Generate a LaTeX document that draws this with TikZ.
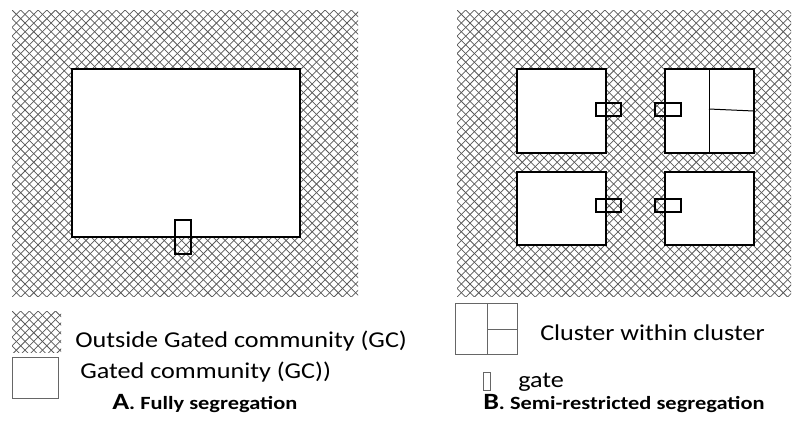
\documentclass[tikz,border=0pt]{standalone}
\usepackage{graphicx}
\usepackage{fontspec}
\setmainfont{Carlito}
\newcommand{\wide}[2]{\scalebox{#1}[1]{#2}}
\begin{document}
\begin{tikzpicture}[x=0.75pt,y=-0.75pt,
  hatchline/.style={line width=0.55pt, draw=black!65},
  gcbox/.style={line width=2.2pt, draw=black, fill=white},
  gatebox/.style={line width=1.9pt, draw=black},
  thinline/.style={line width=0.75pt, draw=black},
  legbox/.style={line width=0.6pt, draw=black!60},
  lbl/.style={anchor=base west, inner sep=0pt, font=\fontsize{17}{20}\selectfont},
  captiontext/.style={anchor=base west, inner sep=0pt, font=\bfseries\fontsize{14}{16}\selectfont}
]
\useasboundingbox (0,0) rectangle (794,430);
\newcommand{\hatchregion}[4]{%
  \begin{scope}
    \clip (#1,#2) rectangle (#3,#4);
    \foreach \i in {-45,...,85} {
      \draw[hatchline] ({#1+\i*8.7},#2) -- ++(320,320);
      \draw[hatchline] ({#1+\i*8.7},#2) -- ++(-320,320);
    }
  \end{scope}}
% ---------- Panel A ----------
\hatchregion{12}{10}{358}{296}
\draw[gcbox] (72,69) rectangle (300,237);
\draw[gatebox] (175,220) rectangle (191,254);
% ---------- Panel B ----------
\hatchregion{457}{10}{791}{296}
\draw[gcbox] (517,69) rectangle (606,153);
\draw[gcbox] (665,69) rectangle (754,153);
\draw[thinline] (709,69) -- (709,153);
\draw[thinline] (709,109) -- (754,111);
\draw[gcbox] (517,172) rectangle (606,245);
\draw[gcbox] (665,172) rectangle (754,245);
\draw[gatebox] (596,103) rectangle (621,116);
\draw[gatebox] (655,103) rectangle (681,116);
\draw[gatebox] (596,199) rectangle (621,212);
\draw[gatebox] (655,199) rectangle (681,212);
% ---------- Legend A ----------
\hatchregion{12}{311}{61}{352}
\draw[legbox, fill=white] (12,357) rectangle (58,398);
\node[lbl] (outside) at (75,347) {\wide{1.155}{Outside Gated community (GC)}};
\node[lbl] (gated) at (80,378) {\wide{1.155}{Gated community (GC))}};
\node[captiontext] (capA) at (112,409) {\wide{1.2}{{\fontsize{17.5}{20}\selectfont A}. Fully segregation}};
% ---------- Legend B ----------
\draw[legbox] (455,303) rectangle (517,354);
\draw[legbox] (487,303) -- (487,354);
\draw[legbox] (487,329) -- (517,329);
\node[lbl] (cluster) at (540,340) {\wide{1.155}{Cluster within cluster}};
\draw[legbox] (483,372) rectangle (490,390);
\node[lbl] (gate) at (518,387) {\wide{1.155}{gate}};
\node[captiontext] (capB) at (483,409) {\wide{1.2}{{\fontsize{17.5}{20}\selectfont B}. Semi-restricted segregation}};
\end{tikzpicture}
\end{document}
